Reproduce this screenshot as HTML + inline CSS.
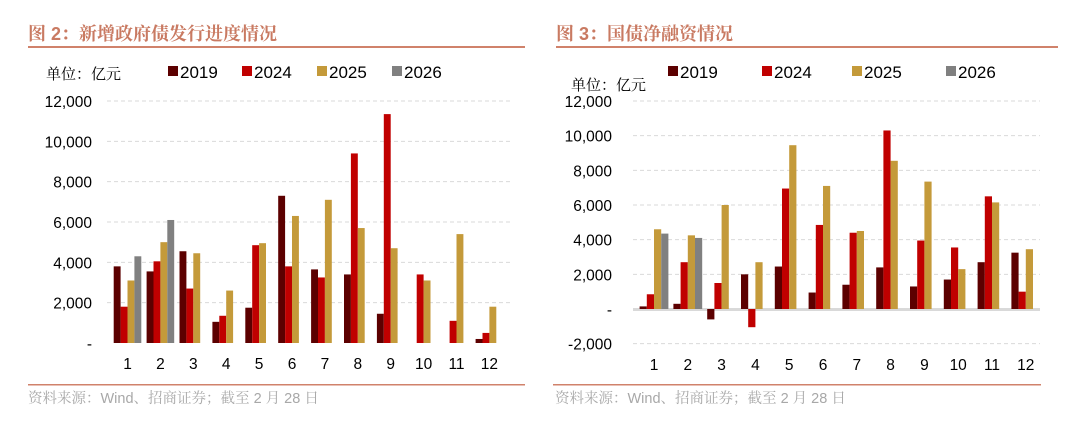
<!DOCTYPE html>
<html><head><meta charset="utf-8"><style>
body{margin:0;background:#fff;width:1080px;height:424px;overflow:hidden}
svg{display:block}
text{font-family:"Liberation Sans","Noto Sans CJK SC",sans-serif}
.sf{font-family:"Liberation Sans","Noto Serif CJK SC",serif}
</style></head><body>
<svg id="s" width="1080" height="424" xmlns="http://www.w3.org/2000/svg">
<text class="sf" x="28" y="40" font-size="18" font-weight="bold" fill="#c97a62">图 2：新增政府债发行进度情况</text>
<rect x="28" y="46" width="497" height="2" fill="#d0826b"/>
<text class="sf" x="556" y="40" font-size="18" font-weight="bold" fill="#c97a62">图 3：国债净融资情况</text>
<rect x="556" y="46" width="502" height="2" fill="#d0826b"/>
<rect x="28" y="384" width="497" height="1.5" fill="#d0826b"/>
<rect x="553" y="384" width="488" height="1.5" fill="#d0826b"/>
<text class="sf" x="28" y="403" font-size="14.5" fill="#a8a8a8">资料来源：Wind、招商证券；截至 2 月 28 日</text>
<text class="sf" x="555" y="403" font-size="14.5" fill="#a8a8a8">资料来源：Wind、招商证券；截至 2 月 28 日</text>
<text class="sf" x="46" y="79" font-size="15" fill="#000">单位：亿元</text>
<text class="sf" x="571" y="90" font-size="15" fill="#000">单位：亿元</text>
<g id="g"></g>
</svg>
<script>
var g=document.getElementById('g'),NS="http://www.w3.org/2000/svg";
function el(t,a,txt){var e=document.createElementNS(NS,t);for(var k in a)e.setAttribute(k,a[k]);if(txt!=null)e.textContent=txt;g.appendChild(e);return e;}
var C=["#5c0000","#c00000","#c49a3a","#808080"],Y=["2019","2024","2025","2026"];
function legend(xs){for(var i=0;i<4;i++){el('rect',{x:xs[i],y:66,width:10,height:10,fill:C[i]});el('text',{x:xs[i]+12,y:78,'font-size':17,fill:'#000'},Y[i]);}}
legend([168,242,317,392]);legend([668,762,852,946]);
function chart(o){
 var sc=(o.y0-o.ytop)/o.max;
 o.ticks.forEach(function(v){var y=o.y0-v*sc;
  if(v!==0)el('line',{x1:o.gx1,x2:o.gx2,y1:y,y2:y,stroke:'#d9d9d9','stroke-dasharray':'4,3'});
  el('text',{x:o.lx,y:y+6,'font-size':15.5,'text-anchor':'end',fill:'#000'},v===0?'-':(v<0?'-':'')+Math.abs(v).toLocaleString('en-US'));});
 if(o.zline)el('rect',{x:o.gx1,y:o.y0-1,width:o.gx2-o.gx1,height:3,fill:'#d9d9d9'});
 o.data.forEach(function(d,i){var cx=o.c1+i*o.sp;
  d.forEach(function(v,j){if(v==null)return;var x=cx-2*o.bw+j*o.bw,h=Math.abs(v)*sc;
   el('rect',{x:x,y:v>=0?o.y0-h:o.y0,width:o.bw,height:h,fill:C[j]});});
  el('text',{x:cx,y:o.xl,'font-size':15.5,'text-anchor':'middle',fill:'#000'},i+1);});
}
chart({y0:343,ytop:101,max:12000,ticks:[12000,10000,8000,6000,4000,2000,0],gx1:107,gx2:512,lx:92,c1:127.5,sp:32.9,bw:6.9,xl:369,
data:[[3800,1800,3100,4300],[3550,4050,5000,6100],[4550,2700,4450],[1050,1350,2600],[1750,4850,4950],[7300,3800,6300],[3650,3250,7100],[3400,9400,5700],[1450,11350,4700],[0,3400,3100],[0,1100,5400],[200,500,1800]]});
chart({y0:309,ytop:101,max:12000,ticks:[12000,10000,8000,6000,4000,2000,0,-2000],gx1:633,gx2:1040,lx:612,c1:654,sp:33.8,bw:7.2,xl:370,zline:1,
data:[[150,850,4600,4350],[300,2700,4250,4100],[-600,1500,6000],[2000,-1050,2700],[2450,6950,9450],[950,4850,7100],[1400,4400,4500],[2400,10300,8550],[1300,3950,7350],[1700,3550,2300],[2700,6500,6150],[3250,1000,3450]]});
</script>
</body></html>
